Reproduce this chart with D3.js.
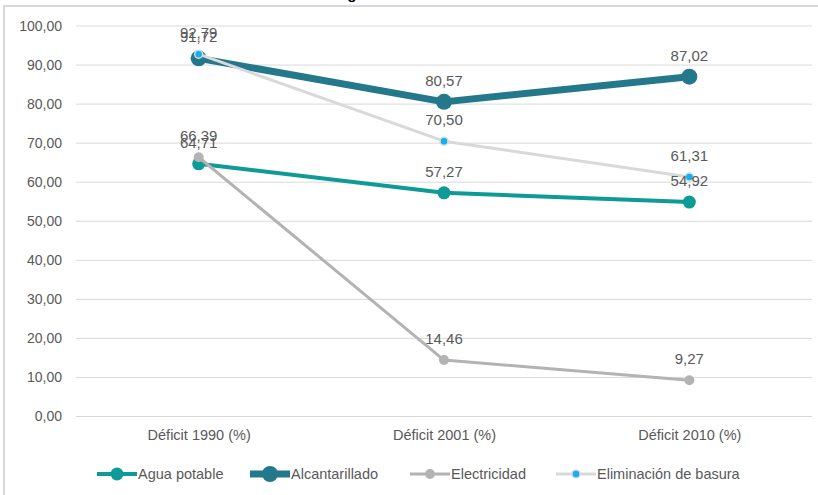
<!DOCTYPE html>
<html><head><meta charset="utf-8">
<script src="https://cdn.jsdelivr.net/npm/d3@7"></script>
<style>body{margin:0;background:#fff;}svg{display:block;font-family:"Liberation Sans",Arial,sans-serif;}</style>
</head><body>
<svg id="c" width="818" height="495"></svg>
<script>
const title = "Gráfico 4: Déficit de servicios básicos en el cantón Colta según";
const categories = ["Déficit 1990 (%)", "Déficit 2001 (%)", "Déficit 2010 (%)"];
const yTicks = [0,10,20,30,40,50,60,70,80,90,100];
const seriesNames = ["Agua potable", "Alcantarillado", "Electricidad", "Eliminación de basura"];
const aguaPotable = [64.71, 57.27, 54.92];
const alcantarillado = [91.72, 80.57, 87.02];
const electricidad = [66.39, 14.46, 9.27];
const basura = [92.79, 70.50, 61.31];

const styles = [
  {line:"#0e9a96", width:4, r:6.5, fill:"#0e9a96", stroke:"none", sw:0},
  {line:"#23788b", width:7, r:8, fill:"#23788b", stroke:"none", sw:0},
  {line:"#b3b3b3", width:3, r:5, fill:"#b3b3b3", stroke:"none", sw:0},
  {line:"#d9d9d9", width:3, r:4, fill:"#12b0ee", stroke:"#d9d9d9", sw:1.5}
];
const allValues = [aguaPotable, alcantarillado, electricidad, basura];

const svg = d3.select("#c");
const fmt = v => d3.format(".2f")(v).replace(".", ",");

// frame
svg.append("path").attr("d","M4,495 V6 H818").attr("fill","none").attr("stroke","#d9d9d9").attr("stroke-width",2);
// cut-off title
svg.append("text").attr("x",-78).attr("y",-1).attr("font-weight","bold").attr("font-size",15).attr("fill","#000").text(title);

const x = d3.scalePoint().domain(categories).range([76,812]).padding(0.5);
const y = d3.scaleLinear().domain([0,100]).range([416.5,26]);

// grid
svg.append("g").selectAll("line").data(yTicks).join("line")
  .attr("x1",76).attr("x2",812).attr("y1",d=>y(d)).attr("y2",d=>y(d))
  .attr("stroke","#d9d9d9").attr("stroke-width",1);

const yAxis = svg.append("g").attr("transform","translate(62,0)")
  .call(d3.axisLeft(y).tickValues(yTicks).tickSize(0).tickPadding(0).tickFormat(fmt));
yAxis.select(".domain").remove();
yAxis.selectAll("text").attr("font-size",14).attr("fill","#595959").attr("font-family","Liberation Sans, Arial, sans-serif");

const xAxis = svg.append("g").attr("transform","translate(0,428)")
  .call(d3.axisBottom(x).tickSize(0).tickPadding(0));
xAxis.select(".domain").remove();
xAxis.selectAll("text").attr("font-size",14.5).attr("fill","#595959").attr("dy","0.85em").attr("font-family","Liberation Sans, Arial, sans-serif");

const line = d3.line().x((d,i)=>x(categories[i])).y(d=>y(d));

allValues.forEach((vals,si)=>{
  const s = styles[si];
  const g = svg.append("g");
  g.append("path").datum(vals).attr("d",line).attr("fill","none")
    .attr("stroke",s.line).attr("stroke-width",s.width).attr("stroke-linejoin","round").attr("stroke-linecap","round");
  g.selectAll("circle").data(vals).join("circle")
    .attr("cx",(d,i)=>x(categories[i])).attr("cy",d=>y(d)).attr("r",s.r)
    .attr("fill",s.fill).attr("stroke",s.stroke).attr("stroke-width",s.sw);
});
allValues.forEach((vals,si)=>{
  svg.append("g").selectAll("text").data(vals).join("text")
    .attr("x",(d,i)=>x(categories[i])).attr("y",d=>y(d)-16)
    .attr("text-anchor","middle").attr("font-size",15).attr("fill","#595959")
    .text(fmt);
});

// legend
const legX = [97, 250, 410, 556];
const lg = svg.append("g").attr("transform","translate(0,474)");
seriesNames.forEach((n,i)=>{
  const s = styles[i];
  const g = lg.append("g").attr("transform",`translate(${legX[i]},0)`);
  g.append("line").attr("x1",0).attr("x2",40).attr("y1",0).attr("y2",0)
    .attr("stroke",s.line).attr("stroke-width",s.width);
  g.append("circle").attr("cx",20).attr("cy",0).attr("r",s.r).attr("fill",s.fill).attr("stroke",s.stroke).attr("stroke-width",s.sw);
  g.append("text").attr("x",41).attr("y",0).attr("dy","0.35em").attr("font-size",14.5).attr("fill","#595959").text(n);
});
</script>
</body></html>
